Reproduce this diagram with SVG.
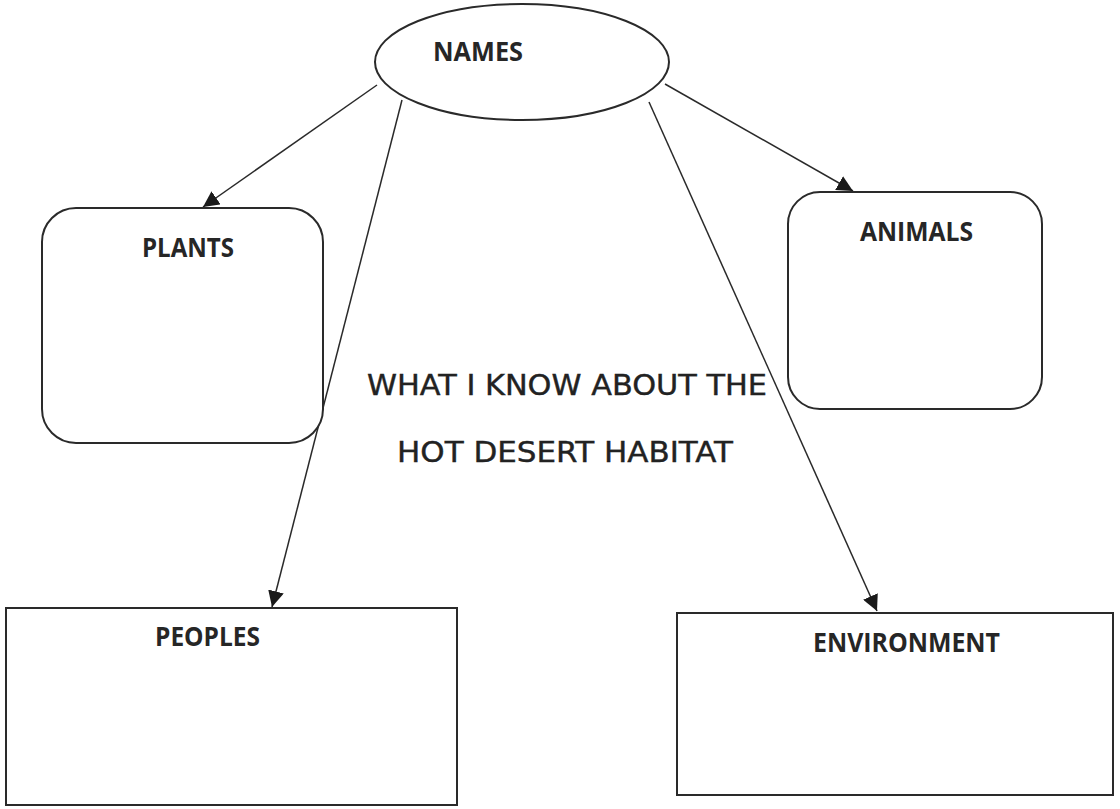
<svg xmlns="http://www.w3.org/2000/svg" width="1120" height="809" viewBox="0 0 1120 809">
  <style>
    .shape { fill: #ffffff; stroke: #2a2a2a; stroke-width: 2; }
    .label { font-family: "Open Sans", "Noto Sans", "Liberation Sans", sans-serif; font-weight: bold; font-size: 26px; fill: #262626; }
    .title { font-family: "DejaVu Sans", "Liberation Sans", sans-serif; font-size: 28px; fill: #222222; stroke: #222222; stroke-width: 0.4; }
    .link { fill: none; stroke: #2a2a2a; stroke-width: 1.5; marker-end: url(#arrow); }
  </style>
  <defs>
    <marker id="arrow" markerUnits="userSpaceOnUse" markerWidth="18" markerHeight="16" refX="16" refY="8" orient="auto">
      <path d="M0,0 L16,8 L0,16 Z" fill="#1a1a1a"/>
    </marker>
  </defs>

  <rect width="1120" height="809" fill="#ffffff"/>

  <!-- connectors from the central ellipse -->
  <g id="connectors">
    <line class="link" x1="377" y1="85" x2="203" y2="207"/>
    <line class="link" x1="402" y1="100" x2="272" y2="607"/>
    <line class="link" x1="649" y1="102" x2="877" y2="611"/>
    <line class="link" x1="665" y1="84" x2="853" y2="191"/>
  </g>

  <g id="names">
    <ellipse class="shape" cx="522" cy="62" rx="147" ry="58"/>
    <text class="label" x="433" y="61" textLength="90" lengthAdjust="spacingAndGlyphs">NAMES</text>
  </g>

  <g id="plants">
    <rect class="shape" x="42" y="208" width="281" height="235" rx="34" ry="34"/>
    <text class="label" x="142" y="257" textLength="92" lengthAdjust="spacingAndGlyphs">PLANTS</text>
  </g>

  <g id="animals">
    <rect class="shape" x="788" y="192" width="254" height="217" rx="32" ry="32"/>
    <text class="label" x="860" y="241" textLength="113" lengthAdjust="spacingAndGlyphs">ANIMALS</text>
  </g>

  <g id="peoples">
    <rect class="shape" x="6" y="608" width="451" height="197"/>
    <text class="label" x="155" y="646" textLength="105" lengthAdjust="spacingAndGlyphs">PEOPLES</text>
  </g>

  <g id="environment">
    <rect class="shape" x="677" y="613" width="436" height="182"/>
    <text class="label" x="813" y="652" textLength="187" lengthAdjust="spacingAndGlyphs">ENVIRONMENT</text>
  </g>

  <g id="title">
    <text class="title" x="367" y="395" textLength="400" lengthAdjust="spacingAndGlyphs">WHAT I KNOW ABOUT THE</text>
    <text class="title" x="397" y="462" textLength="336" lengthAdjust="spacingAndGlyphs">HOT DESERT HABITAT</text>
  </g>
</svg>
